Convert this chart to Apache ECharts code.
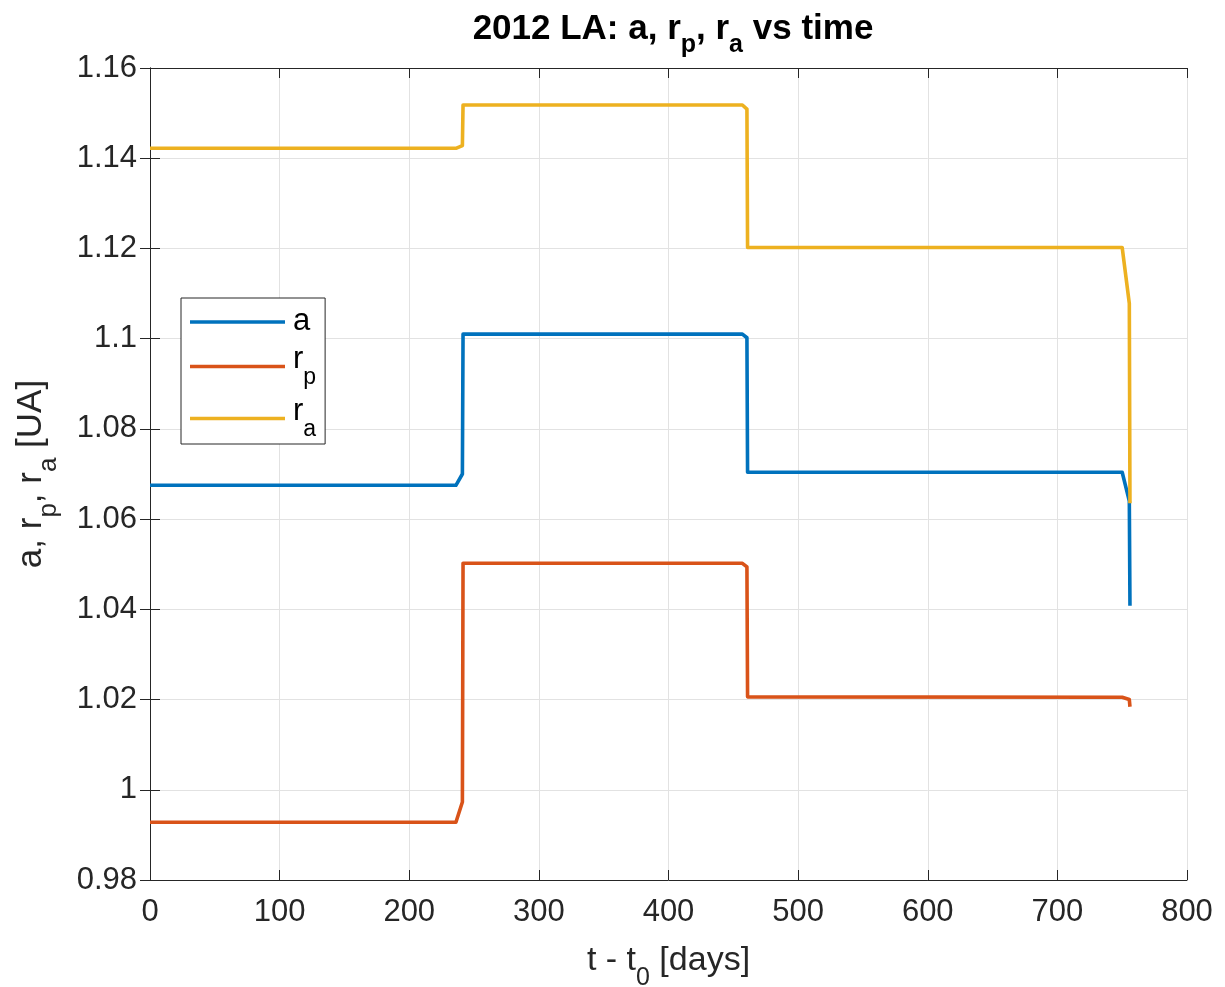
<!DOCTYPE html>
<html><head><meta charset="utf-8">
<script src="https://cdn.jsdelivr.net/npm/echarts@6/dist/echarts.min.js"></script>
<style>html,body{margin:0;padding:0;background:#fff}#c{width:1225px;height:987px}</style>
</head><body><div id="c"></div>
<script>
// time since t0 [days]
const days   = [0, 236, 241, 241.5, 457, 460.5, 461, 750, 755.5, 756];
// semi-major axis a [UA]
const aVals  = [1.0675, 1.0675, 1.0700, 1.1010, 1.1010, 1.1002, 1.0704, 1.0704, 1.0640, 1.0408];
// perihelion r_p [UA]
const rpVals = [0.9928, 0.9928, 0.9973, 1.0502, 1.0502, 1.0494, 1.0206, 1.0205, 1.0200, 1.0184];
// aphelion r_a [UA]
const raVals = [1.1422, 1.1422, 1.1428, 1.1518, 1.1518, 1.1509, 1.1202, 1.1202, 1.1078, 1.0635];
const seriesNames = ['a', 'r_p', 'r_a'];
const xMin = 0, xMax = 800, xStep = 100;
const yMin = 0.98, yMax = 1.16, yStep = 0.02;

const FONT = 'Liberation Sans, Arial, Helvetica, sans-serif';
const TXT = '#262626';
const colors = ['#0072BD', '#D95319', '#EDB120'];

const chart = echarts.init(document.getElementById('c'), null, {renderer: 'canvas'});
const mk = vals => days.map((d, i) => [d, vals[i]]);
const yFmt = v => String(parseFloat(v.toFixed(2)));

const hiddenAxis = (pos) => ({
  position: pos, type: 'value',
  axisLine: {show: true, lineStyle: {color: TXT, width: 1}},
  axisTick: {show: true, inside: true, length: 10, lineStyle: {color: TXT}},
  axisLabel: {show: false}, splitLine: {show: false}
});

chart.setOption({
  animation: false,
  color: colors,
  title: {
    text: '{m|2012 LA: a, r}{s|p}{m|, r}{s|a}{m| vs time}',
    left: 668, top: 7, textAlign: 'center',
    textStyle: {
      rich: {
        m: {fontFamily: FONT, fontSize: 35, fontWeight: 'bold', color: '#000', lineHeight: 36, verticalAlign: 'top'},
        s: {fontFamily: FONT, fontSize: 25, fontWeight: 'bold', color: '#000', padding: [21, 0, 0, 0], verticalAlign: 'top'}
      }
    }
  },
  grid: {left: 150, right: 38, top: 68, bottom: 107, containLabel: false, outerBoundsMode: 'none'},
  legend: {
    data: seriesNames,
    orient: 'vertical', left: 181, top: 298,
    padding: [8, 9, 3, 9], itemGap: 7,
    borderColor: TXT, borderWidth: 1, backgroundColor: '#fff', borderRadius: 0,
    icon: 'rect', itemWidth: 95, itemHeight: 3.5,
    formatter: n => n === 'a' ? '{m|a}' : '{m|r}{s|' + n.slice(2) + '}',
    textStyle: {
      padding: [0, 0, 0, 3],
      rich: {
        m: {fontFamily: FONT, fontSize: 31, color: '#000', lineHeight: 32, verticalAlign: 'top'},
        s: {fontFamily: FONT, fontSize: 23, color: '#000', padding: [22, 0, 0, 0], verticalAlign: 'top'}
      }
    }
  },
  xAxis: [{
    type: 'value', min: xMin, max: xMax, interval: xStep, position: 'bottom',
    name: '{m|t - t}{s|0}{m| [days]}', nameLocation: 'middle', nameGap: 64,
    nameTextStyle: {
      rich: {
        m: {fontFamily: FONT, fontSize: 34, color: TXT, lineHeight: 36, verticalAlign: 'top'},
        s: {fontFamily: FONT, fontSize: 25, color: TXT, padding: [22, 0, 0, 0], verticalAlign: 'top'}
      }
    },
    axisLine: {show: true, onZero: false, lineStyle: {color: TXT, width: 1}},
    axisTick: {show: true, inside: true, length: 10, lineStyle: {color: TXT}},
    axisLabel: {fontFamily: FONT, fontSize: 31, color: TXT, margin: 17},
    splitLine: {show: true, lineStyle: {color: '#e2e2e2', width: 1}}
  }, Object.assign(hiddenAxis('top'), {min: xMin, max: xMax, interval: xStep})],
  yAxis: [{
    type: 'value', min: yMin, max: yMax, interval: yStep, position: 'left',
    name: '{m|a, r}{s|p}{m|, r}{s|a}{m| [UA]}', nameLocation: 'middle', nameGap: 88, nameRotate: 90,
    nameTextStyle: {
      rich: {
        m: {fontFamily: FONT, fontSize: 35, color: TXT, lineHeight: 36, verticalAlign: 'top'},
        s: {fontFamily: FONT, fontSize: 26, color: TXT, padding: [22, 0, 0, 0], verticalAlign: 'top'}
      }
    },
    axisLine: {show: true, onZero: false, lineStyle: {color: TXT, width: 1}},
    axisTick: {show: true, inside: true, length: 10, lineStyle: {color: TXT}},
    axisLabel: {fontFamily: FONT, fontSize: 31, color: TXT, margin: 13, formatter: yFmt},
    splitLine: {show: true, lineStyle: {color: '#e2e2e2', width: 1}}
  }, Object.assign(hiddenAxis('right'), {min: yMin, max: yMax, interval: yStep})],
  series: [
    {name: seriesNames[0], type: 'line', data: mk(aVals), showSymbol: false, lineStyle: {width: 3.6, color: colors[0], join: 'round'}, itemStyle: {color: colors[0]}},
    {name: seriesNames[1], type: 'line', data: mk(rpVals), showSymbol: false, lineStyle: {width: 3.6, color: colors[1], join: 'round'}, itemStyle: {color: colors[1]}},
    {name: seriesNames[2], type: 'line', data: mk(raVals), showSymbol: false, lineStyle: {width: 3.6, color: colors[2], join: 'round'}, itemStyle: {color: colors[2]}}
  ]
});
</script>
</body></html>
